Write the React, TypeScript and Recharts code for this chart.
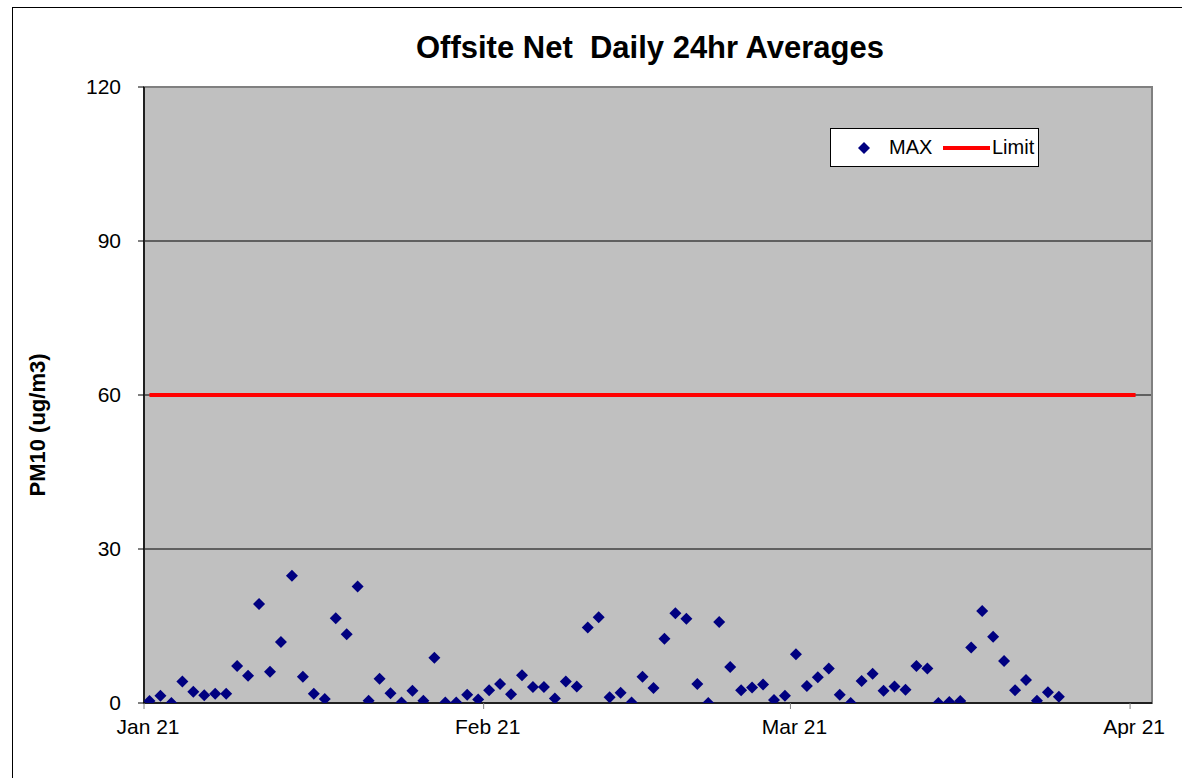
import React from 'react';
import {
  ComposedChart,
  Scatter,
  Line,
  XAxis,
  YAxis,
  CartesianGrid,
  ReferenceArea,
} from 'recharts';

// daily MAX values, starting Jan 21
const maxValues = [
  0.4, 1.4, 0, 4.2, 2.2, 1.5, 1.8, 1.8, 7.2, 5.3,
  19.3, 6.1, 11.9, 24.8, 5.1, 1.8, 0.8, 16.5, 13.4, 22.7,
  0.45, 4.7, 1.9, 0.1, 2.4, 0.45, 8.8, 0.1, 0.1, 1.6,
  0.7, 2.5, 3.7, 1.7, 5.4, 3.1, 3.1, 0.9, 4.2, 3.2,
  14.7, 16.7, 1.1, 2.0, 0.1, 5.1, 2.9, 12.5, 17.5, 16.4,
  3.7, 0, 15.8, 7.0, 2.5, 3.0, 3.6, 0.6, 1.4, 9.5,
  3.3, 5.0, 6.7, 1.6, 0, 4.3, 5.7, 2.4, 3.2, 2.6,
  7.2, 6.7, 0, 0.2, 0.4, 10.8, 17.9, 12.9, 8.2, 2.5,
  4.5, 0.45, 2.1, 1.2,
];

// limit line: 60 ug/m3 from Jan 21 to Apr 21 (day index)
const limitValue = 60;
const limitDays = [0, 90];

const tickDays = [0, 31, 59, 90];
const tickLabels = ['Jan 21', 'Feb 21', 'Mar 21', 'Apr 21'];
const yTicks = [0, 30, 60, 90, 120];

// Excel places each day in the middle of its slot
const maxData = maxValues.map((v, i) => ({ x: i + 0.5, y: v }));
const limitData = limitDays.map((d) => ({ x: d + 0.5, y: limitValue }));

const FONT = '"Liberation Sans", Arial, sans-serif';

const Diamond = (props: any) => {
  const { cx, cy } = props;
  if (cx == null || cy == null) return null;
  const r = 6;
  return (
    <path
      d={`M${cx},${cy - r}L${cx + r},${cy}L${cx},${cy + r}L${cx - r},${cy}Z`}
      fill="#000080"
    />
  );
};

const LegendBox = () => (
  <div
    style={{
      position: 'absolute',
      left: 830,
      top: 128,
      width: 209,
      height: 39,
      boxSizing: 'border-box',
      border: '1px solid #000',
      background: '#fff',
      fontFamily: FONT,
      fontSize: 20,
      color: '#000',
    }}
  >
    <svg width={14} height={14} style={{ position: 'absolute', left: 26, top: 12 }}>
      <path d="M7,1L13,7L7,13L1,7Z" fill="#000080" />
    </svg>
    <span style={{ position: 'absolute', left: 58, top: 7, lineHeight: '22px' }}>MAX</span>
    <div style={{ position: 'absolute', left: 112, top: 17, width: 47, height: 4, background: '#ff0000' }} />
    <span style={{ position: 'absolute', left: 161, top: 7, lineHeight: '22px' }}>Limit</span>
  </div>
);

export default function App() {
  return (
    <div
      style={{
        position: 'absolute',
        left: 0,
        top: 0,
        width: 1182,
        height: 778,
        background: '#fff',
        overflow: 'hidden',
        fontFamily: FONT,
      }}
    >
      <div
        style={{
          position: 'absolute',
          left: 12,
          top: 7,
          width: 1300,
          height: 900,
          border: '1px solid #000',
        }}
      />
      <div
        style={{
          position: 'absolute',
          left: 350,
          top: 32,
          width: 600,
          textAlign: 'center',
          fontSize: 31,
          lineHeight: '31px',
          fontWeight: 'bold',
          whiteSpace: 'pre',
        }}
      >
        {'Offsite Net  Daily 24hr Averages'}
      </div>
      <div
        style={{
          position: 'absolute',
          left: 37.5 - 150,
          top: 424.5 - 15,
          width: 300,
          height: 30,
          lineHeight: '30px',
          textAlign: 'center',
          fontSize: 22,
          fontWeight: 'bold',
          transform: 'rotate(-90deg)',
        }}
      >
        PM10 (ug/m3)
      </div>
      <ComposedChart
        width={1182}
        height={778}
        margin={{ top: 87, right: 30, bottom: 45, left: 84 }}
        style={{ position: 'absolute', left: 0, top: 0 }}
      >
        <CartesianGrid
          fill="#c0c0c0"
          fillOpacity={1}
          vertical={false}
          stroke="#000"
          strokeWidth={1}
          horizontalValues={[30, 60, 90]}
        />
        <ReferenceArea x1={0} x2={92} y1={0} y2={120} fill="none" stroke="#808080" strokeWidth={2} ifOverflow="visible" />
        <XAxis
          type="number"
          dataKey="x"
          domain={[0, 92]}
          ticks={tickDays}
          tickFormatter={(v: number) => tickLabels[tickDays.indexOf(v)] ?? ''}
          height={30}
          tickSize={6}
          tickMargin={10}
          axisLine={{ stroke: '#000', strokeWidth: 1.5 }}
          tickLine={{ stroke: '#808080' }}
          tick={{ fill: '#000', fontSize: 21, fontFamily: FONT, dx: 4 }}
          allowDataOverflow
        />
        <YAxis
          type="number"
          domain={[0, 120]}
          ticks={yTicks}
          width={60}
          tickSize={6}
          tickMargin={17}
          axisLine={{ stroke: '#000', strokeWidth: 1.5 }}
          tickLine={{ stroke: '#000' }}
          tick={{ fill: '#000', fontSize: 21, fontFamily: FONT }}
          allowDataOverflow
        />
        <Line
          data={limitData}
          dataKey="y"
          name="Limit"
          stroke="#ff0000"
          strokeWidth={4}
          dot={false}
          isAnimationActive={false}
        />
        <Scatter
          data={maxData}
          dataKey="y"
          name="MAX"
          shape={<Diamond />}
          isAnimationActive={false}
        />
      </ComposedChart>
      <LegendBox />
    </div>
  );
}
